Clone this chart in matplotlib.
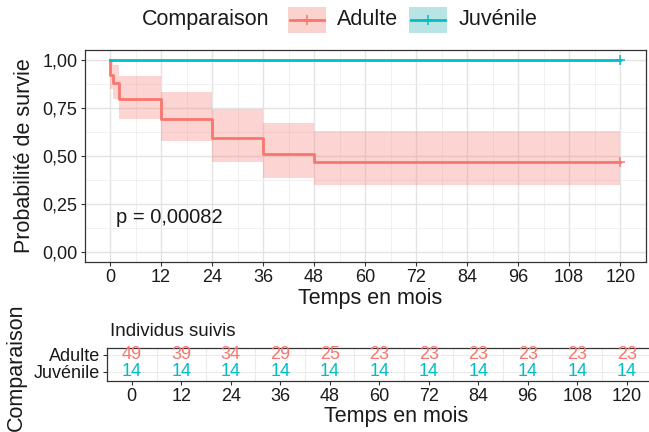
import matplotlib
matplotlib.use("Agg")
import matplotlib.pyplot as plt
from matplotlib.patches import Rectangle
from matplotlib.lines import Line2D
import numpy as np

plt.rcParams['font.family'] = ['Liberation Sans', 'DejaVu Sans']

# --- data ---
groups = ['Adulte', 'Juvénile']
colors = ['#F8766D', '#00BFC4']
key_fill = ['#FAD3CF', '#B9E4E6']

adult_time = [0, 0.1, 0.8, 2, 12, 24, 36, 48, 120]
adult_surv = [1.0, 0.918, 0.878, 0.796, 0.694, 0.592, 0.510, 0.469, 0.469]
adult_upper = [1.0, 1.0, 0.971, 0.915, 0.833, 0.745, 0.669, 0.629, 0.629]
adult_lower = [1.0, 0.845, 0.793, 0.691, 0.577, 0.470, 0.387, 0.348, 0.348]

juv_time = [0, 120]
juv_surv = [1.0, 1.0]

censor_time = [120, 120]
censor_surv = [0.469, 1.0]

risk_times = [0, 12, 24, 36, 48, 60, 72, 84, 96, 108, 120]
adult_risk = [49, 39, 34, 29, 25, 23, 23, 23, 23, 23, 23]
juv_risk = [14, 14, 14, 14, 14, 14, 14, 14, 14, 14, 14]

y_ticks = [0, 0.25, 0.5, 0.75, 1.0]
y_ticklabels = ['0,00', '0,25', '0,50', '0,75', '1,00']
pval_text = 'p = 0,00082'

W, H = 649, 432
fig = plt.figure(figsize=(W / 100, H / 100), dpi=100)


def px_axes(l, t, r, b):
    return fig.add_axes([l / W, 1 - b / H, (r - l) / W, (b - t) / H])


def fx(x):
    return x / W


def fy(y):
    return 1 - y / H


dark = '#1a1a1a'
grid_c = '#E3E3E3'

# --- main survival panel ---
ax = px_axes(84.5, 50, 645.7, 261.7)
ax.set_xlim(-6, 126)
ax.set_ylim(-0.05, 1.05)
ax.set_xticks(risk_times)
ax.set_xticks(np.arange(6, 126, 12), minor=True)
ax.set_yticks(y_ticks)
ax.set_yticklabels(y_ticklabels)
ax.set_yticks([0.125, 0.375, 0.625, 0.875], minor=True)
ax.grid(True, which='major', color=grid_c, lw=1.0)
ax.grid(True, which='minor', color='#EEEEEE', lw=0.6)
ax.set_axisbelow(True)
ax.tick_params(which='major', length=3, width=0.8, color='#333333',
               labelsize=13, labelcolor=dark, pad=2)
ax.tick_params(which='minor', length=0)
for s in ax.spines.values():
    s.set_color('#333333')
    s.set_linewidth(0.9)

ax.fill_between(adult_time, adult_lower, adult_upper, step='post',
                color=colors[0], alpha=0.3, lw=0)
ax.step(adult_time, adult_surv, where='post', color=colors[0], lw=2.0)
ax.step(juv_time, juv_surv, where='post', color=colors[1], lw=2.0)
ax.plot(censor_time[0], censor_surv[0], marker='+', ms=7, mew=1.1, color=colors[0])
ax.plot(censor_time[1], censor_surv[1], marker='+', ms=7, mew=1.1, color=colors[1])
ax.text(1.5, 0.18, pval_text, fontsize=14.5, color=dark, va='center', ha='left')

fig.text(fx(24), fy(156), 'Probabilité de survie', rotation=90,
         fontsize=15.5, color=dark, ha='center', va='center')
fig.text(fx(370.5), fy(298.3), 'Temps en mois', fontsize=15.5, color=dark,
         ha='center', va='center')

# --- legend on top ---
fig.text(fx(141.7), fy(19.5), 'Comparaison', fontsize=15.5, color=dark,
         ha='left', va='center')
keys = [(288.3, 325.7, 336.7), (409, 446.7, 458.3)]
for (k0, k1, tx), g, c, kf in zip(keys, groups, colors, key_fill):
    fig.patches.append(Rectangle((fx(k0), fy(32.7)), fx(k1 - k0), (32.7 - 7.3) / H,
                                 transform=fig.transFigure, facecolor=kf, lw=0))
    fig.lines.append(Line2D([fx(k0 + 2), fx(k1 - 2)], [fy(19.5), fy(19.5)],
                            transform=fig.transFigure, color=c, lw=2.0))
    fig.lines.append(Line2D([fx((k0 + k1) / 2)], [fy(19.5)], marker='+', ms=7,
                            mew=1.1, transform=fig.transFigure, color=c))
    fig.text(fx(tx), fy(19.5), g, fontsize=15.5, color=dark, ha='left', va='center')

# --- risk table ---
rt = px_axes(107, 348.3, 651.5, 380.7)
rt.set_xlim(-6, 126)
rt.set_ylim(0.45, 2.4)
rt.set_xticks(risk_times)
rt.set_xticks(np.arange(6, 126, 12), minor=True)
rt.set_yticks([2, 1])
rt.set_yticklabels(groups)
rt.grid(True, which='minor', axis='x', color='#EBEBEB', lw=0.8)
rt.grid(True, which='major', axis='y', color='#EBEBEB', lw=0.8)
rt.set_axisbelow(True)
rt.tick_params(which='major', length=3, width=0.8, color='#333333',
               labelsize=13, labelcolor=dark, pad=2)
rt.tick_params(which='minor', length=0)
for s in rt.spines.values():
    s.set_color('#333333')
    s.set_linewidth(0.9)
for t, n in zip(risk_times, adult_risk):
    rt.text(t, 2, str(n), color=colors[0], fontsize=13, ha='center', va='center')
for t, n in zip(risk_times, juv_risk):
    rt.text(t, 1, str(n), color=colors[1], fontsize=13, ha='center', va='center')

fig.text(fx(110), fy(331.7), 'Individus suivis', fontsize=13.5, color=dark,
         ha='left', va='center')
fig.text(fx(16.7), fy(367.5), 'Comparaison', rotation=90, fontsize=15.5,
         color=dark, ha='center', va='center')
fig.text(fx(396), fy(416.7), 'Temps en mois', fontsize=15.5, color=dark,
         ha='center', va='center')

fig.savefig('out.png', dpi=100)
